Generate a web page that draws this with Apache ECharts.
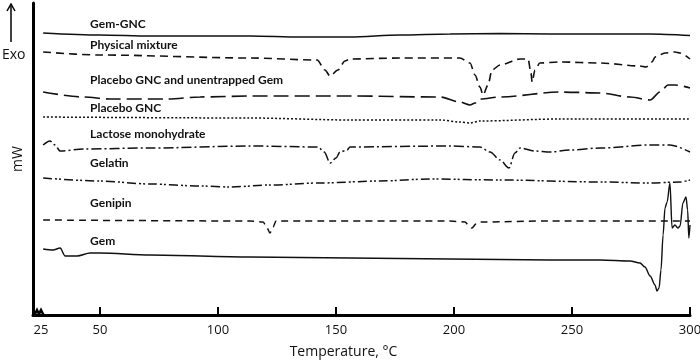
<!DOCTYPE html>
<html>
<head>
<meta charset="utf-8">
<script src="https://cdn.jsdelivr.net/npm/echarts@6/dist/echarts.min.js"></script>
<style>
  html, body { margin: 0; padding: 0; background: #ffffff; }
  #chart { width: 700px; height: 360px; }
</style>
</head>
<body>
<div id="chart"></div>
<script>
  // x axis labels / ticks
  var labelValues = [25, 50, 100, 150, 200, 250, 300];
  var tickValues = [50, 100, 150, 200, 250, 300];

  // curve names, top to bottom
  var names = ['Gem-GNC', 'Physical mixture', 'Placebo GNC and unentrapped Gem', 'Placebo GNC',
    'Lactose monohydrate', 'Gelatin', 'Genipin', 'Gem'];

  // [temperature, offset heat flow] (arbitrary units)
  var gemGnc = [[25.9, 282], [50, 280], [71.2, 279], [113.6, 279], [134.7, 278], [155.9, 278], [177.1, 280],
    [198.3, 281], [219.5, 281.5], [240.7, 281], [283.1, 281], [300, 279.5]];

  var physMix = [[25.9, 263], [50, 260], [113.6, 257], [142.0, 255], [145.3, 245], [147.5, 239], [150.8, 245],
    [153.8, 254], [155.9, 256], [177.1, 257], [202.5, 257], [206.8, 252], [208.9, 240], [211.0, 228],
    [212.3, 220], [214.4, 230], [216.1, 245], [219.5, 250], [228.0, 256], [231.4, 256], [232.6, 242],
    [233.1, 233], [234.3, 245], [236.4, 252], [244.9, 253], [261.9, 252], [278.8, 249], [281.4, 248],
    [283.9, 253], [285.2, 258], [289.4, 262], [293.6, 263], [295.8, 262], [300, 256]];

  var placeboUnent = [[25.9, 223], [42.8, 218], [54.2, 216], [78.4, 216], [92.4, 218], [113.6, 219], [155.9, 219],
    [194.1, 218], [202.5, 213], [206.8, 210], [208.9, 212], [211.0, 216], [219.5, 218], [244.9, 223],
    [261.9, 222], [274.6, 218], [283.1, 215], [287.3, 223], [290.7, 230], [293.6, 230], [300, 227]];

  var placebo = [[25.9, 198], [113.6, 197], [155.9, 195], [194.1, 195], [202.5, 193], [206.8, 192], [211.0, 194],
    [244.9, 196], [300, 196]];

  var lactose = [[25.9, 170], [28.8, 174], [30.9, 170], [33.1, 164], [42.8, 166], [71.2, 167], [113.6, 169],
    [142.4, 168], [145.0, 163], [147.5, 152], [150.0, 157], [151.7, 163], [154.7, 165], [155.9, 168],
    [198.3, 169], [211.0, 168], [215.3, 163], [219.5, 155], [223.3, 147], [225.8, 162], [228.0, 167],
    [234.3, 164], [240.7, 163], [249.2, 165], [261.9, 167], [283.1, 170], [291.5, 170], [300, 163]];

  var gelatin = [[25.9, 137], [50, 134], [71.2, 131], [92.4, 129], [105.1, 128], [122.0, 130], [143.2, 132],
    [168.6, 134], [189.8, 136], [219.5, 135], [261.9, 133], [283.1, 132], [295.8, 133], [300, 135]];

  var genipin = [[25.9, 95], [113.6, 94], [119.1, 93], [120.8, 87], [122.0, 82], [123.3, 88], [124.6, 94],
    [198.3, 94], [204.7, 93], [206.4, 89], [207.6, 87], [209.3, 91], [211.0, 93], [240.7, 94], [300, 94]];

  var gem = [[25.9, 66], [30.1, 65], [33.1, 67], [35.2, 59], [40.3, 59], [45.8, 62], [50, 62], [71.2, 60],
    [113.6, 58], [155.9, 57], [198.3, 56], [240.7, 55], [261.9, 55], [274.6, 54], [278.8, 52], [280.9, 48],
    [283.1, 39], [285.2, 30], [286.0, 24], [286.9, 27], [287.7, 45], [288.6, 80], [289.4, 107], [290.3, 113],
    [291.5, 132], [292.4, 87], [293.6, 90], [294.9, 87], [295.8, 89], [297.0, 112], [298.3, 118], [299.0, 105],
    [299.5, 77], [300, 90]];

  var curves = [gemGnc, physMix, placeboUnent, placebo, lactose, gelatin, genipin, gem];

  // label spot for each curve (temperature, height)
  var labelSpot = [[45.8, 291], [45.8, 270], [45.8, 235], [45.8, 207], [45.8, 181], [45.8, 152], [45.8, 112], [45.8, 74]];

  var dashes = ['solid', [8, 5], [15, 6], [2, 2], [10, 3, 2, 3], [9, 3, 2, 2, 2, 3], [7, 5], 'solid'];
  var widths = [1.7, 1.6, 1.7, 1.5, 1.5, 1.5, 1.5, 1.4];

  var myChart = echarts.init(document.getElementById('chart'));

  var series = curves.map(function (d, i) {
    return {
      name: names[i],
      type: 'line',
      data: d,
      showSymbol: false,
      smooth: 0.3,
      smoothMonotone: 'x',
      silent: true,
      lineStyle: {color: '#111', width: widths[i], type: dashes[i]},
      markPoint: {
        symbol: 'circle',
        symbolSize: 0,
        silent: true,
        data: [{coord: labelSpot[i], value: names[i]}],
        label: {
          show: true,
          position: 'right',
          distance: 0,
          formatter: names[i],
          color: '#111',
          fontFamily: 'Lato',
          fontWeight: 'bold',
          fontSize: 12
        }
      }
    };
  });

  myChart.setOption({
    animation: false,
    grid: {left: 33, right: 10, top: 3, bottom: 45, outerBoundsMode: 'none', containLabel: false},
    xAxis: {
      type: 'value',
      min: 21.6,
      max: 300,
      name: 'Temperature, °C',
      nameLocation: 'middle',
      nameGap: 30,
      nameTextStyle: {color: '#111', fontFamily: 'Open Sans', fontSize: 14, padding: [0, 36, 0, 0]},
      axisLine: {lineStyle: {color: '#000', width: 3}},
      axisTick: {show: true, inside: true, length: 8, customValues: tickValues, lineStyle: {color: '#000', width: 2}},
      axisLabel: {customValues: labelValues, color: '#111', fontFamily: 'Open Sans', fontSize: 13, margin: 9},
      splitLine: {show: false}
    },
    yAxis: {
      type: 'value',
      min: 0,
      max: 312,
      name: 'mW',
      nameLocation: 'middle',
      nameRotate: 90,
      nameGap: 8,
      nameTextStyle: {color: '#111', fontFamily: 'Open Sans', fontSize: 14},
      axisLine: {show: true, lineStyle: {color: '#000', width: 3}},
      axisTick: {show: false},
      axisLabel: {show: false},
      splitLine: {show: false}
    },
    graphic: [
      // Exo arrow
      {type: 'line', shape: {x1: 11, y1: 42, x2: 11, y2: 6}, style: {stroke: '#000', lineWidth: 1.5}},
      {type: 'polyline', shape: {points: [[7, 11], [11, 4], [15, 11]]}, style: {stroke: '#000', lineWidth: 1.5, fill: null}},
      {type: 'text', left: 2, top: 48, style: {text: 'Exo', fontFamily: 'Open Sans', fontSize: 14, fill: '#111'}},
      // axis break mark
      {type: 'polyline', shape: {points: [[34, 316], [37, 310], [39, 314], [41, 310], [44, 316]]},
        style: {stroke: '#000', lineWidth: 2.5, fill: null}}
    ],
    series: series
  });
</script>
</body>
</html>
